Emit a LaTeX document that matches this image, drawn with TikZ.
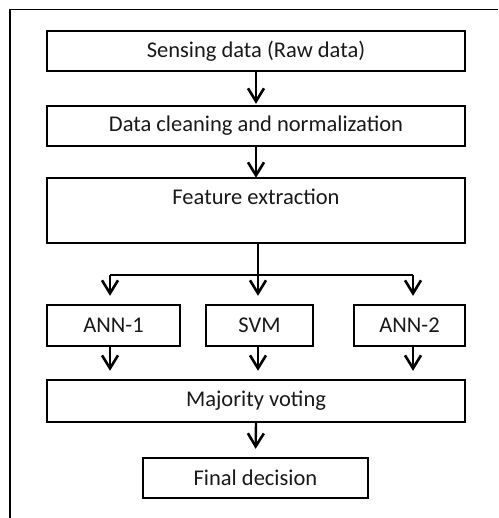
\documentclass[tikz,border=0pt]{standalone}
\usepackage{fontspec}
\setmainfont{Carlito}
\usetikzlibrary{arrows.meta}
\begin{document}
\begin{tikzpicture}[x=1pt,y=-1pt,
  txt/.style={font=\fontsize{22.5}{24}\selectfont,text=black!90},
  box/.style={draw=black,line width=2.4pt,rectangle,inner sep=0pt,txt},
  arr/.style={line width=2.4pt,-{Straight Barb[length=13pt,width=16pt,line width=2.6pt]},shorten >=1pt},
  conn/.style={line width=2.4pt}]
\useasboundingbox (0,0) rectangle (498,518);
\draw[line width=1.6pt] (10,518) -- (10,9.5) -- (498,9.5);
\node[box,minimum width=418pt,minimum height=40pt] (sense) at (256,51) {Sensing data (Raw data)};
\node[box,minimum width=418pt,minimum height=40pt] (clean) at (256,126) {Data cleaning and normalization};
\node[box,minimum width=418pt,minimum height=65pt] (feat) at (256,210.5) {};
\node[txt,inner sep=0pt] (featlabel) at (256,197) {Feature extraction};
\node[box,minimum width=133pt,minimum height=41pt] (ann1) at (113.5,325.5) {ANN-1};
\node[box,minimum width=107pt,minimum height=41pt] (svm) at (259.5,325.5) {SVM};
\node[box,minimum width=111pt,minimum height=41pt] (ann2) at (409.5,325.5) {ANN-2};
\node[box,minimum width=418pt,minimum height=42pt] (vote) at (256,401) {Majority voting};
\node[box,minimum width=225pt,minimum height=40pt] (final) at (255.5,478) {Final decision};
\coordinate (j) at (258,275);
\coordinate (jl) at (110,275);
\coordinate (jr) at (413,275);
\draw[arr] (sense.south) -- (clean.north);
\draw[arr] (clean.south) -- ([yshift=-2pt]feat.north);
\draw[conn] (feat.south -| j) -- (j);
\draw[conn] (jl) -- (jr);
\draw[arr,shorten >=8pt] (jl) -- (jl |- ann1.north);
\draw[arr,shorten >=8pt] (j) -- (j |- svm.north);
\draw[arr,shorten >=8pt] (jr) -- (jr |- ann2.north);
\draw[arr,shorten >=8pt] (jl |- ann1.south) -- (jl |- vote.north);
\draw[arr,shorten >=8pt] (j |- svm.south) -- (j |- vote.north);
\draw[arr,shorten >=8pt] (jr |- ann2.south) -- (jr |- vote.north);
\draw[arr,shorten >=8pt] (vote.south) -- (final.north);
\end{tikzpicture}
\end{document}
